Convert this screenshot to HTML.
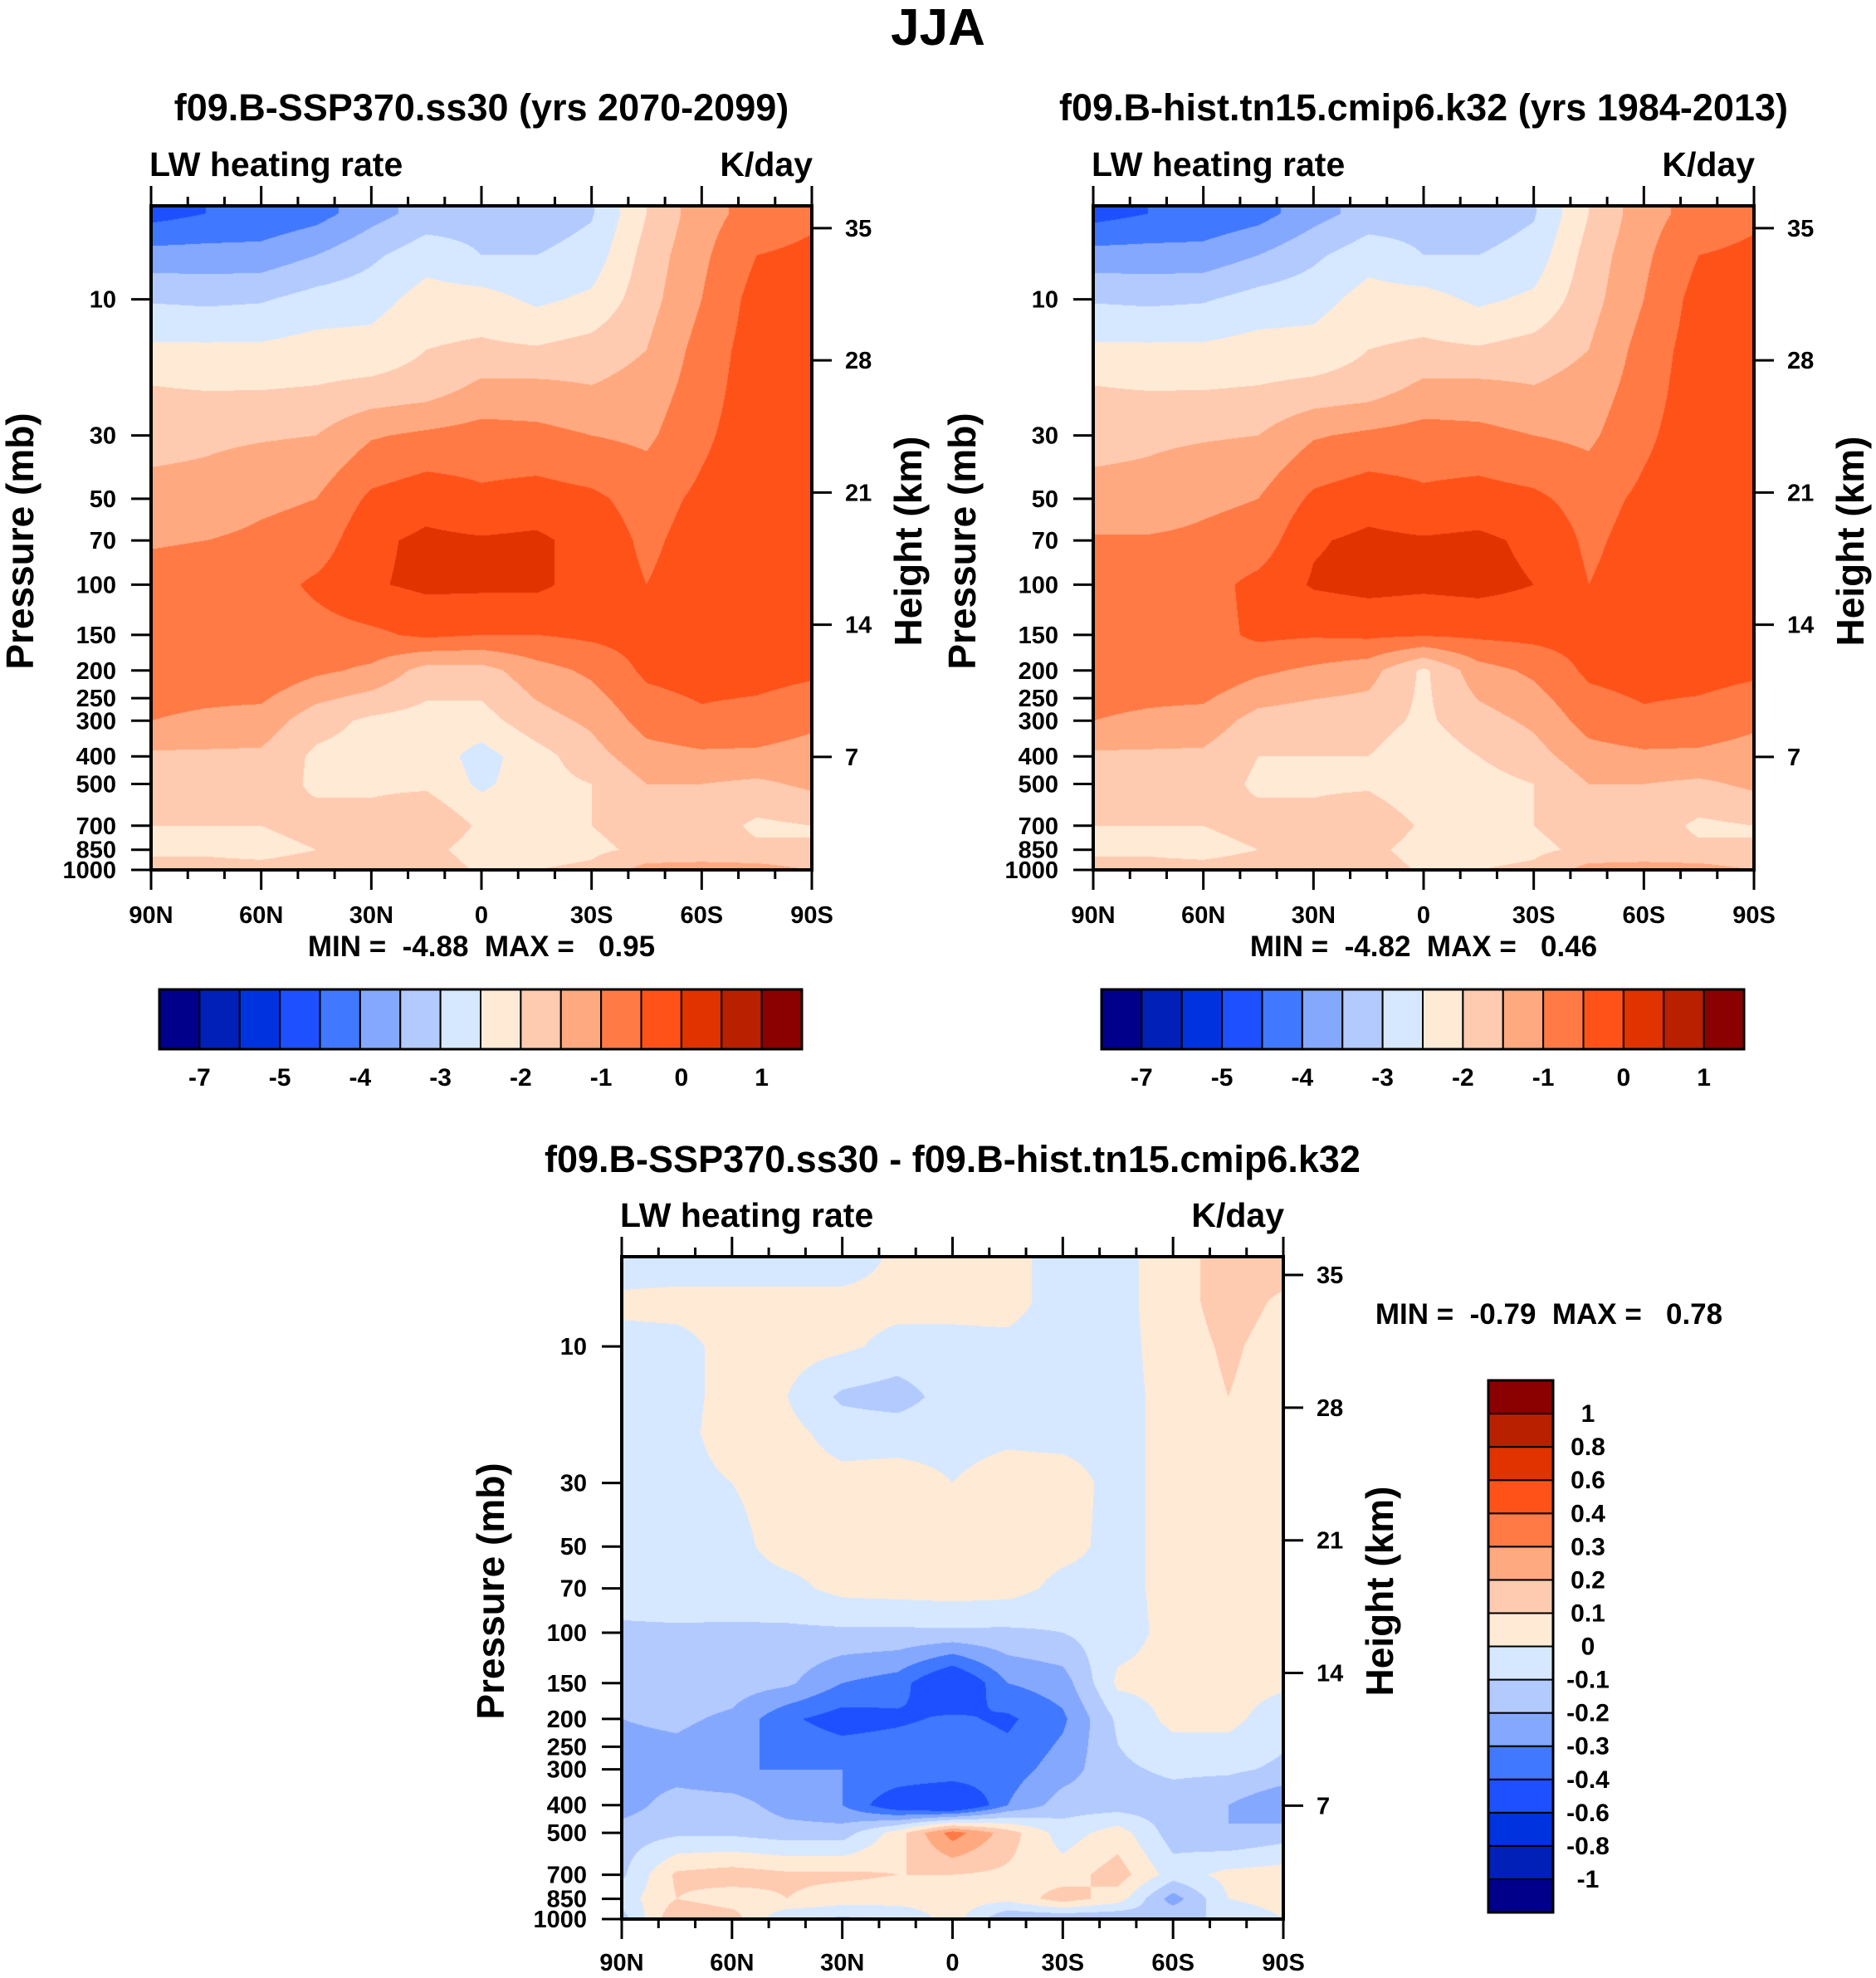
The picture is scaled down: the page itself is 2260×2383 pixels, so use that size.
<!DOCTYPE html>
<html><head><meta charset="utf-8">
<style>
html,body{margin:0;padding:0;background:#fff;}
#wrap{position:relative;width:2260px;height:2383px;overflow:hidden;font-family:"Liberation Sans",sans-serif;}
canvas{position:absolute;}
svg{position:absolute;left:0;top:0;}
text{font-family:"Liberation Sans",sans-serif;font-weight:bold;fill:#000;white-space:pre;}
</style></head>
<body>
<div id="wrap">
<canvas id="c1"></canvas>
<canvas id="c2"></canvas>
<canvas id="c3"></canvas>
<svg id="ov" width="2260" height="2383"></svg>
</div>
<script>
// ---- data ----
const lats = [90,75,60,45,30,15,0,-15,-30,-45,-60,-75,-90];
const levels = [5,7,10,15,20,30,50,70,100,150,200,300,400,500,700,850,1000];
const pressureTicks = [10,30,50,70,100,150,200,250,300,400,500,700,850,1000];
const heightTicks = [7,14,21,28,35];
const latTickLabels = ['90N','60N','30N','0','30S','60S','90S'];
const latTickValues = [90,60,30,0,-30,-60,-90];
const palette = ['#00008B','#0020B8','#0033E0','#1E50FF','#4078FF','#85A8FF','#B3CAFF','#D6E8FF','#FFEAD6','#FFCBB0','#FFA980','#FF7A45','#FF5219','#E03300','#B82000','#8B0000'];
const absLevels = [-6,-5,-4.5,-4,-3.5,-3,-2.5,-2,-1.5,-1,-0.5,0,0.5,1,1.5];
const absLabels = ['','-7','','-5','','-4','','-3','','-2','','-1','','0','','1'];
const diffLevels = [-1,-0.8,-0.6,-0.4,-0.3,-0.2,-0.1,0,0.1,0.2,0.3,0.4,0.6,0.8,1];
const diffLabels = ['-1','-0.8','-0.6','-0.4','-0.3','-0.2','-0.1','0','0.1','0.2','0.3','0.4','0.6','0.8','1'];
// values[lat][level]
const futureValues = [
[-4.2,-3.3,-2.55,-1.9,-1.5,-1.2,-0.8,-0.55,-0.3,-0.2,-0.2,-0.5,-1.1,-1.2,-1.5,-1.6,-1.3],
[-4.0,-3.3,-2.6,-1.9,-1.55,-1.1,-0.8,-0.5,-0.25,-0.2,-0.2,-0.6,-1.1,-1.2,-1.5,-1.6,-1.3],
[-3.9,-3.3,-2.55,-1.9,-1.55,-1.05,-0.6,-0.4,-0.25,-0.2,-0.1,-0.7,-1.1,-1.2,-1.5,-1.7,-1.3],
[-3.7,-3.0,-2.3,-1.8,-1.5,-1.0,-0.5,-0.3,0.1,-0.2,-0.4,-1.3,-1.6,-1.6,-1.3,-1.5,-1.2],
[-3.2,-2.6,-2.2,-1.8,-1.4,-0.55,0.1,0.4,0.45,-0.1,-0.6,-1.6,-1.7,-1.6,-1.3,-1.5,-1.3],
[-2.8,-2.2,-1.8,-1.5,-1.3,-0.4,0.3,0.6,0.6,0.1,-1.2,-1.7,-1.7,-1.6,-1.0,-1.3,-1.1],
[-2.7,-2.5,-1.8,-1.4,-0.9,-0.3,0.1,0.55,0.6,0.0,-1.2,-1.7,-2.2,-2.1,-1.6,-1.8,-1.6],
[-2.8,-2.5,-2.1,-1.45,-0.9,-0.35,0.2,0.6,0.6,0.0,-0.7,-1.2,-1.7,-1.7,-1.5,-1.7,-1.5],
[-2.55,-2.3,-1.9,-1.3,-1.0,-0.5,0.1,0.3,0.3,0.1,-0.4,-0.9,-1.2,-1.5,-1.5,-1.6,-1.4],
[-1.5,-1.3,-1.2,-1.0,-0.8,-0.6,-0.2,-0.1,0.0,0.2,0.1,-0.3,-0.7,-1.0,-1.3,-1.4,-0.8],
[-0.7,-0.6,-0.5,-0.3,-0.25,-0.1,0.1,0.2,0.25,0.3,0.2,-0.1,-0.6,-1.0,-1.2,-1.3,-0.8],
[-0.3,0.0,0.2,0.25,0.3,0.3,0.3,0.3,0.3,0.3,0.2,-0.2,-0.6,-1.1,-1.6,-1.4,-0.8],
[-0.1,0.1,0.3,0.3,0.3,0.3,0.3,0.3,0.3,0.3,0.1,-0.4,-0.7,-0.9,-1.5,-1.5,-1.0]];
const histValues = [
[-4.2,-3.3,-2.55,-1.9,-1.5,-1.2,-0.8,-0.45,-0.25,-0.2,-0.2,-0.5,-1.1,-1.2,-1.5,-1.6,-1.3],
[-4.0,-3.3,-2.6,-1.9,-1.55,-1.1,-0.8,-0.45,-0.25,-0.2,-0.2,-0.6,-1.1,-1.2,-1.5,-1.6,-1.3],
[-3.9,-3.3,-2.55,-1.9,-1.55,-1.05,-0.6,-0.4,-0.2,-0.2,-0.1,-0.7,-1.1,-1.2,-1.5,-1.7,-1.3],
[-3.7,-3.0,-2.3,-1.8,-1.5,-1.0,-0.5,-0.3,0.15,0.1,-0.4,-1.2,-1.5,-1.6,-1.3,-1.5,-1.2],
[-3.2,-2.6,-2.2,-1.8,-1.4,-0.55,0.1,0.45,0.55,0.05,-0.6,-1.3,-1.5,-1.6,-1.3,-1.5,-1.3],
[-2.8,-2.2,-1.8,-1.5,-1.3,-0.4,0.3,0.6,0.65,0.1,-0.8,-1.3,-1.5,-1.6,-1.0,-1.3,-1.1],
[-2.7,-2.5,-1.8,-1.4,-0.9,-0.3,0.1,0.55,0.6,0.05,-1.6,-1.6,-1.8,-2.0,-1.6,-1.8,-1.6],
[-2.8,-2.5,-2.1,-1.45,-0.9,-0.35,0.2,0.6,0.65,0.1,-0.7,-1.2,-1.5,-1.7,-1.5,-1.7,-1.5],
[-2.55,-2.3,-1.9,-1.3,-1.0,-0.5,0.1,0.4,0.5,0.15,-0.4,-0.9,-1.2,-1.5,-1.5,-1.6,-1.4],
[-1.5,-1.3,-1.2,-1.0,-0.8,-0.6,-0.2,-0.1,0.0,0.2,0.1,-0.3,-0.7,-1.0,-1.3,-1.4,-0.8],
[-0.7,-0.6,-0.5,-0.3,-0.25,-0.1,0.1,0.2,0.25,0.3,0.2,-0.1,-0.6,-1.0,-1.2,-1.3,-0.8],
[-0.3,0.0,0.2,0.25,0.3,0.3,0.3,0.3,0.3,0.3,0.2,-0.2,-0.6,-1.1,-1.6,-1.4,-0.8],
[-0.1,0.1,0.3,0.3,0.3,0.3,0.3,0.3,0.3,0.3,0.1,-0.4,-0.7,-0.9,-1.5,-1.5,-1.0]];
const diffValues = [
[-0.05,0.02,-0.03,-0.05,-0.05,-0.05,-0.05,-0.05,-0.12,-0.15,-0.2,-0.25,-0.25,-0.15,-0.12,-0.05,-0.15],
[-0.05,0.03,-0.03,-0.03,-0.03,-0.03,-0.03,-0.03,-0.12,-0.15,-0.18,-0.25,-0.15,-0.12,0.12,0.1,0.2],
[-0.05,0.03,0.03,0.03,0.04,0.0,-0.03,-0.04,-0.12,-0.15,-0.22,-0.3,-0.15,-0.12,0.15,0.05,0.15],
[-0.05,0.03,0.04,0.0,0.03,0.04,0.04,-0.03,-0.12,-0.18,-0.38,-0.3,-0.25,-0.15,0.12,0.1,-0.1],
[-0.05,0.03,0.02,-0.12,-0.04,0.03,0.04,0.03,-0.12,-0.3,-0.45,-0.3,-0.3,-0.15,0.12,0.05,-0.12],
[0.02,0.03,-0.03,-0.15,-0.04,0.04,0.05,0.04,-0.12,-0.35,-0.42,-0.3,-0.5,0.05,0.1,0.05,-0.1],
[0.03,0.03,-0.03,-0.05,-0.03,0.0,0.04,0.05,-0.12,-0.55,-0.38,-0.3,-0.6,0.35,0.1,0.05,0.05],
[0.04,0.04,-0.03,-0.04,-0.02,0.04,0.05,0.04,-0.12,-0.3,-0.42,-0.35,-0.3,0.15,0.08,0.03,-0.2],
[-0.05,-0.05,-0.05,-0.05,-0.03,0.04,0.03,-0.03,-0.1,-0.25,-0.32,-0.25,-0.15,-0.05,0.05,0.15,-0.2],
[-0.03,-0.03,-0.03,-0.03,-0.03,-0.03,-0.03,-0.03,-0.04,0.02,-0.08,-0.12,-0.15,0.05,0.15,0.05,-0.2],
[0.05,0.05,0.04,0.03,0.03,0.03,0.03,0.03,0.03,0.03,0.03,-0.08,-0.15,-0.15,-0.05,-0.25,-0.1],
[0.15,0.15,0.12,0.1,0.05,0.04,0.04,0.04,0.04,0.04,0.03,-0.08,-0.2,-0.2,0.03,0.0,-0.1],
[0.15,0.08,0.05,0.04,0.04,0.04,0.04,0.04,0.04,0.02,-0.06,-0.12,-0.3,-0.15,0.05,0.05,0.0]];

// ---- layout ----
const panels = [
 {id:'c1',name:'future',x:182,y:248,w:796,h:800,ptop:4.70,vals:futureValues,lv:absLevels},
 {id:'c2',name:'historical',x:1317,y:248,w:796,h:800,ptop:4.70,vals:histValues,lv:absLevels},
 {id:'c3',name:'difference',x:749,y:1514,w:797,h:798,ptop:4.86,vals:diffValues,lv:diffLevels}];
function yOfP(P,p){return P.y+P.h*(1-Math.log10(1000/p)/Math.log10(1000/P.ptop));}
function xOfLat(P,lat){return P.x+P.w*(90-lat)/180;}
function colorIdx(v,lv){let i=0;while(i<lv.length&&v>=lv[i])i++;return Math.min(i,palette.length-1);}
function hex(c){return [parseInt(c.slice(1,3),16),parseInt(c.slice(3,5),16),parseInt(c.slice(5,7),16)];}
const rgb = palette.map(hex);
const logLv = levels.map(l=>Math.log(l));

panels.forEach(P=>{
 const cv=document.getElementById(P.id);
 cv.width=P.w;cv.height=P.h;cv.style.left=P.x+'px';cv.style.top=P.y+'px';
 const ctx=cv.getContext('2d');const img=ctx.createImageData(P.w,P.h);
 const n=lats.length;const D=Math.log10(1000/P.ptop);
 for(let py=0;py<P.h;py++){
  const lp=Math.log(1000/Math.pow(10,D*(1-(py+0.5)/P.h)));
  let j=0;while(j<levels.length-2&&lp>logLv[j+1])j++;
  let tj=(lp-logLv[j])/(logLv[j+1]-logLv[j]);tj=Math.max(0,Math.min(1,tj));
  for(let px=0;px<P.w;px++){
   const lat=90-180*(px+0.5)/P.w;
   let fi=(90-lat)/15;let i=Math.min(n-2,Math.floor(fi));let ti=fi-i;
   const a=P.vals[i][j]*(1-tj)+P.vals[i][j+1]*tj;
   const b=P.vals[i+1][j]*(1-tj)+P.vals[i+1][j+1]*tj;
   const v=a*(1-ti)+b*ti;
   const c=rgb[colorIdx(v,P.lv)];const k=(py*P.w+px)*4;
   img.data[k]=c[0];img.data[k+1]=c[1];img.data[k+2]=c[2];img.data[k+3]=255;
  }
 }
 ctx.putImageData(img,0,0);
});

// ---- overlay ----
const svg=document.getElementById('ov');const NS='http://www.w3.org/2000/svg';
function el(tag,attrs,parent){const e=document.createElementNS(NS,tag);for(const k in attrs)e.setAttribute(k,attrs[k]);(parent||svg).appendChild(e);return e;}
function txt(s,x,y,size,anchor,parent){const t=el('text',{x:x,y:y,'font-size':size,'text-anchor':anchor||'start'},parent);t.textContent=s;return t;}

const fig=el('g',{});


txt('JJA',1130,54,62,'middle',fig);

const titles=['f09.B-SSP370.ss30 (yrs 2070-2099)','f09.B-hist.tn15.cmip6.k32 (yrs 1984-2013)','f09.B-SSP370.ss30 - f09.B-hist.tn15.cmip6.k32'];
const minmax=['MIN =  -4.88  MAX =   0.95','MIN =  -4.82  MAX =   0.46','MIN =  -0.79  MAX =   0.78'];
panels.forEach((P,pi)=>{
 const g=el('g',{});
 
 
 const cx=P.x+P.w/2;
 const tb=pi<2?145:1412, lb=pi<2?212:1478;
 const t=txt(titles[pi],cx,tb,45,'middle',g);
 
 
 const l=txt('LW heating rate',P.x-2,lb,41,'start',g);
 
 
 const r=txt('K/day',P.x+P.w+1,lb,41,'end',g);
 
 
 const box=el('rect',{x:P.x,y:P.y,width:P.w,height:P.h,fill:'none',stroke:'#000','stroke-width':4},g);
 
 
 for(let lat=90;lat>=-90;lat-=10){
  const x=xOfLat(P,lat);const major=(lat%30===0);const L=major?24:11;
  el('line',{x1:x,y1:P.y,x2:x,y2:P.y-L,stroke:'#000','stroke-width':3},g);
  el('line',{x1:x,y1:P.y+P.h,x2:x,y2:P.y+P.h+L,stroke:'#000','stroke-width':3},g);
 }
 const latY=pi<2?1112:2374;
 latTickLabels.forEach((s,k)=>{const tt=txt(s,xOfLat(P,latTickValues[k]),latY,29,'middle',g);
  
  });
 pressureTicks.forEach(p=>{const y=yOfP(P,p);
  el('line',{x1:P.x,y1:y,x2:P.x-24,y2:y,stroke:'#000','stroke-width':3},g);
  const tt=txt(String(p),P.x-42,y+10,29,'end',g);
  
  });
 heightTicks.forEach(z=>{const lg=0.396+(z-7)*0.0662;const p=1000/Math.pow(10,lg);const y=yOfP(P,p);
  el('line',{x1:P.x+P.w,y1:y,x2:P.x+P.w+24,y2:y,stroke:'#000','stroke-width':3},g);
  const tt=txt(String(z),P.x+P.w+40,y+10,29,'start',g);
  
  });
 const cy=P.y+P.h*0.5;
 const ya=txt('Pressure (mb)',0,0,46,'middle',g);
 ya.setAttribute('transform','translate('+(P.x-142)+','+(cy+4)+') rotate(-90)');
 
 
 const yr=txt('Height (km)',0,0,46,'middle',g);
 yr.setAttribute('transform','translate('+(P.x+P.w+132)+','+(cy+4)+') rotate(-90)');
 
 
 const mm=pi<2?txt(minmax[pi],cx,1152,35,'middle',g):txt(minmax[pi],1866,1595,35,'middle',g);
 
 
});

[[192,'future'],[1327,'historical']].forEach(([x0,nm])=>{
 const g=el('g',{});
 
 
 const w=774/palette.length;
 palette.forEach((c,i)=>{const r=el('rect',{x:x0+i*w,y:1192,width:w,height:72,fill:c,stroke:'#000','stroke-width':2},g);
  
  });
 el('rect',{x:x0,y:1192,width:774,height:72,fill:'none',stroke:'#000','stroke-width':3},g);
 absLabels.forEach((s,i)=>{if(!s)return;const tt=txt(s,x0+i*w,1308,30,'middle',g);
  
  });
});
{
 const g=el('g',{});
 
 
 const y0=1663,h=641/palette.length;
 palette.forEach((c,i)=>{const r=el('rect',{x:1793,y:y0+641-(i+1)*h,width:78,height:h,fill:c,stroke:'#000','stroke-width':2},g);
  
  });
 el('rect',{x:1793,y:y0,width:78,height:641,fill:'none',stroke:'#000','stroke-width':3},g);
 diffLabels.forEach((s,i)=>{const tt=txt(s,1913,y0+641-(i+1)*h+10,30,'middle',g);
  
  });
}
</script>
</body></html>
